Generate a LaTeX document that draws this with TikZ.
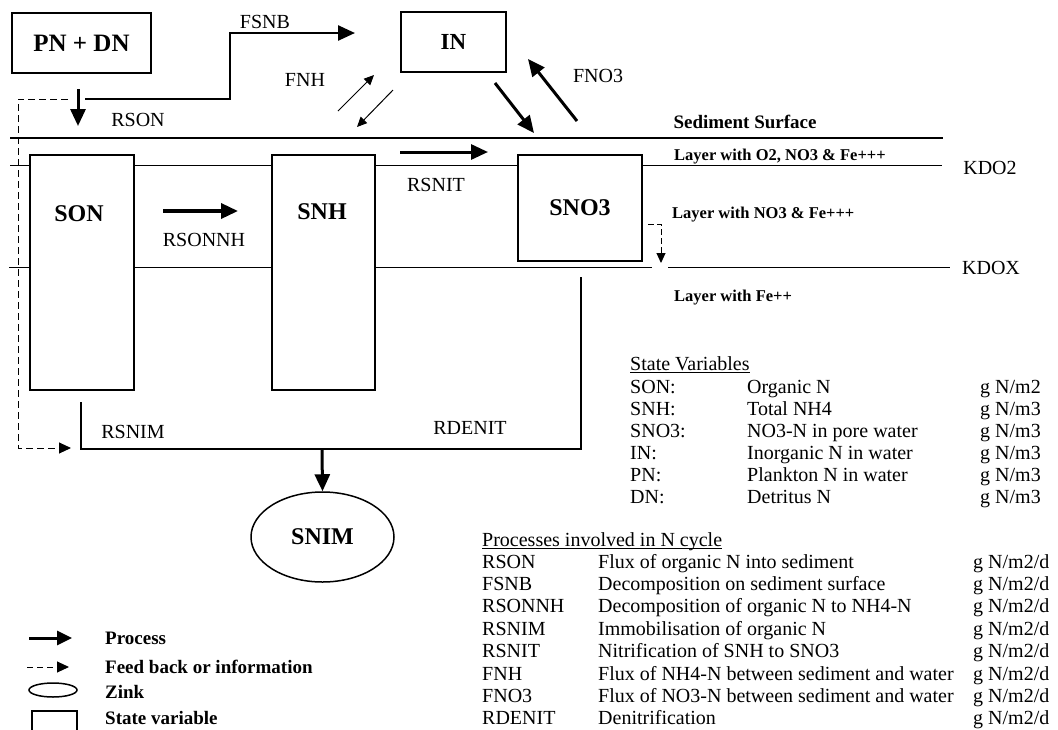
\documentclass[tikz,border=0pt]{standalone}
\usepackage{fontspec}
\setmainfont{Liberation Serif}
\usetikzlibrary{arrows.meta,shapes.geometric}
\newcommand\myfs[1]{\fontsize{#1}{#1}\selectfont}
\begin{document}
\begin{tikzpicture}[x=1pt,y=-1pt,
  box/.style={draw, line width=2pt, fill=white, inner sep=0pt},
  proc/.style={line width=3pt, -{Triangle[length=17pt,width=15pt]}},
  thinarr/.style={line width=1pt, -{Triangle[length=10pt,width=9pt]}},
  fb/.style={line width=1pt, dash pattern=on 7pt off 4pt, -{Triangle[length=12pt,width=11pt]}},
  lbl/.style={inner sep=0pt, font=\myfs{20}},
  blbl/.style={inner sep=0pt, font=\bfseries\myfs{24}},
  lay/.style={inner sep=0pt, anchor=west, font=\bfseries\myfs{16.5}},
  tb/.style={inner sep=0pt, anchor=base west, font=\myfs{20}},
  leg/.style={inner sep=0pt, anchor=west, font=\bfseries\myfs{19}}
]
\useasboundingbox (0,0) rectangle (1058,729);

% layer lines
\coordinate (sedL) at (10,138); \coordinate (sedR) at (943,138);
\coordinate (o2L) at (10,165);  \coordinate (o2R) at (942,165);
\coordinate (oxL) at (9,267);   \coordinate (oxM1) at (652,267);
\coordinate (oxM2) at (668,267); \coordinate (oxR) at (950,267);
\draw[line width=2.5pt] (sedL) -- (sedR);
\draw[line width=1pt] (o2L) -- (o2R);
\draw[line width=1pt] (oxL) -- (oxM1);
\draw[line width=1pt] (oxM2) -- (oxR);

% boxes
\node[box, minimum width=139pt, minimum height=60pt, font=\bfseries\myfs{25}] (PNDN) at (81.5,43) {PN + DN};
\node[box, minimum width=105pt, minimum height=60pt, font=\bfseries\myfs{23}] (IN) at (453.5,42) {IN};
\node[box, minimum width=104pt, minimum height=235pt] (SON) at (82,272.5) {};
\node[blbl] (SONt) at (79,214) {SON};
\node[box, minimum width=103pt, minimum height=235pt] (SNH) at (323.5,272.5) {};
\node[blbl] (SNHt) at (322,212) {SNH};
\node[box, minimum width=124pt, minimum height=106pt, font=\bfseries\myfs{24}] (SNO3) at (580,208) {SNO3};
\node[draw, ellipse, line width=1.5pt, minimum width=143pt, minimum height=90pt, inner sep=0pt, font=\bfseries\myfs{24}] (SNIM) at (322.5,537) {SNIM};

% connectors
\coordinate (rsA) at (78,89);  \coordinate (rsB) at (78,126);
\draw[proc] (rsA) -- (rsB);
\coordinate (fsA) at (85,99); \coordinate (fsK) at (230,66); \coordinate (fsC) at (355,33);
\draw[proc, line width=2.5pt] (fsA) -| (fsK) |- (fsC);
\coordinate (dA) at (68,99); \coordinate (dK) at (18,300); \coordinate (dB) at (71,448);
\draw[fb] (dA) -| (dK) |- (dB);
\coordinate (fnh1a) at (338,111); \coordinate (fnh1b) at (374,75);
\coordinate (fnh2a) at (393,90);  \coordinate (fnh2b) at (357,127);
\draw[thinarr] (fnh1a) -- (fnh1b);
\draw[thinarr] (fnh2a) -- (fnh2b);
\coordinate (inA) at (495,83); \coordinate (inB) at (534,133);
\draw[proc] (inA) -- (inB);
\coordinate (fnoA) at (577,121); \coordinate (fnoB) at (528,59);
\draw[proc] (fnoA) -- (fnoB);
\coordinate (ntA) at (400,152); \coordinate (ntB) at (488,152);
\draw[proc] (ntA) -- (ntB);
\coordinate (snA) at (163,211); \coordinate (snB) at (238,211);
\draw[proc, line width=3.5pt] (snA) -- (snB);
\coordinate (bA) at (81,402); \coordinate (bB) at (81,449);
\coordinate (bC) at (581,449); \coordinate (bD) at (581,277);
\coordinate (bM) at (322,449);
\draw[line width=2.5pt] (bA) -- (bB) -- (bC) -- (bD);
\draw[proc] (bM) -- (SNIM.north);
\coordinate (kA) at (648,224); \coordinate (kB) at (661,224); \coordinate (kC) at (661,263);
\draw[line width=1pt, dash pattern=on 6pt off 3pt, -{Triangle[length=10pt,width=9pt]}] (kA) -- (kB) -- (kC);

% labels
\node[lbl] (lFSNB) at (265,22) {FSNB};
\node[lbl] (lRSON) at (138,120) {RSON};
\node[lbl] (lFNH) at (305,80) {FNH};
\node[lbl] (lFNO3) at (598,76) {FNO3};
\node[lbl] (lRSNIT) at (436,185) {RSNIT};
\node[lbl] (lRSONNH) at (204,240) {RSONNH};
\node[lbl] (lRSNIM) at (133,432) {RSNIM};
\node[lbl] (lRDENIT) at (470,428) {RDENIT};
\node[inner sep=0pt, font=\bfseries\myfs{19}] (lsed) at (745,122) {Sediment Surface};
\node[lay] (lay1) at (674,157) {Layer with O2, NO3 \& Fe+++};
\node[lay] (lay2) at (672,215) {Layer with NO3 \& Fe+++};
\node[lay] (lay3) at (674,298) {Layer with Fe++};
\node[lbl] (kdo2) at (990,168) {KDO2};
\node[lbl] (kdox) at (991,268) {KDOX};

% state variables table
\node[tb] (sv0) at (630,370) {State Variables};
\draw[line width=1pt] ([yshift=-2.5pt]sv0.base west) -- ([yshift=-2.5pt]sv0.base east);
\node[tb] (sv1a) at (630,393) {SON:};  \node[tb] (sv1b) at (747,393) {Organic N};             \node[tb] (sv1c) at (980,393) {g N/m2};
\node[tb] (sv2a) at (630,415) {SNH:};  \node[tb] (sv2b) at (747,415) {Total NH4};             \node[tb] (sv2c) at (980,415) {g N/m3};
\node[tb] (sv3a) at (630,437) {SNO3:}; \node[tb] (sv3b) at (747,437) {NO3-N in pore water};   \node[tb] (sv3c) at (980,437) {g N/m3};
\node[tb] (sv4a) at (630,459) {IN:};   \node[tb] (sv4b) at (747,459) {Inorganic N in water};  \node[tb] (sv4c) at (980,459) {g N/m3};
\node[tb] (sv5a) at (630,481) {PN:};   \node[tb] (sv5b) at (747,481) {Plankton N in water};   \node[tb] (sv5c) at (980,481) {g N/m3};
\node[tb] (sv6a) at (630,503) {DN:};   \node[tb] (sv6b) at (747,503) {Detritus N};            \node[tb] (sv6c) at (980,503) {g N/m3};

% processes table
\node[tb] (pr0) at (482,546) {Processes involved in N cycle};
\draw[line width=1pt] ([yshift=-2.5pt]pr0.base west) -- ([yshift=-2.5pt]pr0.base east);
\node[tb] (pr1a) at (482,568)   {RSON};   \node[tb] (pr1b) at (598,568)   {Flux of organic N into sediment};            \node[tb] (pr1c) at (973,568)   {g N/m2/d};
\node[tb] (pr2a) at (482,590.4) {FSNB};   \node[tb] (pr2b) at (598,590.4) {Decomposition on sediment surface};          \node[tb] (pr2c) at (973,590.4) {g N/m2/d};
\node[tb] (pr3a) at (482,612.8) {RSONNH}; \node[tb] (pr3b) at (598,612.8) {Decomposition of organic N to NH4-N};       \node[tb] (pr3c) at (973,612.8) {g N/m2/d};
\node[tb] (pr4a) at (482,635.2) {RSNIM};  \node[tb] (pr4b) at (598,635.2) {Immobilisation of organic N};                \node[tb] (pr4c) at (973,635.2) {g N/m2/d};
\node[tb] (pr5a) at (482,657.6) {RSNIT};  \node[tb] (pr5b) at (598,657.6) {Nitrification of SNH to SNO3};               \node[tb] (pr5c) at (973,657.6) {g N/m2/d};
\node[tb] (pr6a) at (482,680)   {FNH};    \node[tb] (pr6b) at (598,680)   {Flux of NH4-N between sediment and water};   \node[tb] (pr6c) at (973,680)   {g N/m2/d};
\node[tb] (pr7a) at (482,702.4) {FNO3};   \node[tb] (pr7b) at (598,702.4) {Flux of NO3-N between sediment and water};   \node[tb] (pr7c) at (973,702.4) {g N/m2/d};
\node[tb] (pr8a) at (482,724) {RDENIT}; \node[tb] (pr8b) at (598,724) {Denitrification};                            \node[tb] (pr8c) at (973,724) {g N/m2/d};

% legend
\coordinate (lg1a) at (29,638); \coordinate (lg1b) at (72,638);
\draw[line width=3pt, -{Triangle[length=15pt,width=14pt]}] (lg1a) -- (lg1b);
\coordinate (lg2a) at (27,667); \coordinate (lg2b) at (69,667);
\draw[line width=1pt, dash pattern=on 6pt off 4pt, -{Triangle[length=12pt,width=11pt]}] (lg2a) -- (lg2b);
\node[draw, ellipse, line width=1.5pt, minimum width=48pt, minimum height=14pt, inner sep=0pt] (zink) at (53,690) {};
\draw[line width=2pt] (32,731) -- (32,711) -- (77,711) -- (77,731);
\node[leg] (lg1) at (105,638) {Process};
\node[leg] (lg2) at (105,667) {Feed back or information};
\node[leg] (lg3) at (105,692) {Zink};
\node[leg] (lg4) at (105,718) {State variable};
\end{tikzpicture}
\end{document}
